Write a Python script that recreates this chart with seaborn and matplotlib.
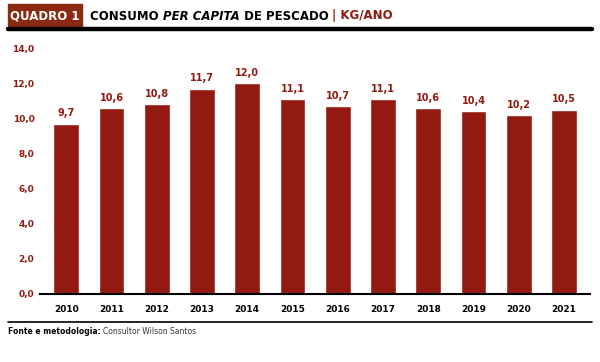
import matplotlib.pyplot as plt
import seaborn as sns
import pandas as pd

# data
anos = ["2010", "2011", "2012", "2013", "2014", "2015", "2016", "2017", "2018", "2019", "2020", "2021"]
consumo = [9.7, 10.6, 10.8, 11.7, 12.0, 11.1, 10.7, 11.1, 10.6, 10.4, 10.2, 10.5]
yticks = [0, 2, 4, 6, 8, 10, 12, 14]

df = pd.DataFrame({"ano": anos, "consumo": consumo})

sns.set_style("white")
plt.rcParams['font.family'] = ['DejaVu Sans']

red = "#921a10"
fig = plt.figure(figsize=(6, 3.62), dpi=100)
ax = fig.add_axes([0.0667, 0.188, 0.917, 0.679])

sns.barplot(data=df, x="ano", y="consumo", color=red, width=0.57, saturation=1, ax=ax)

for i, v in enumerate(consumo):
    ax.text(i, v + 0.3, f"{v:.1f}".replace(".", ","), ha="center", va="bottom",
            fontsize=7, fontweight="bold", color=red)

ax.set_xlim(-0.58, 11.58)
ax.set_ylim(0, 14)
ax.set_yticks(yticks)
ax.set_yticklabels([f"{t:.1f}".replace(".", ",") for t in yticks], color=red,
                   fontsize=6.5, fontweight="bold")
ax.set_xticks(range(len(anos)))
ax.set_xticklabels(anos, fontsize=6.5, fontweight="bold", color="black")
ax.tick_params(axis="y", length=0, pad=4)
ax.tick_params(axis="x", length=0, pad=8)
ax.set_xlabel("")
ax.set_ylabel("")
for s in ["top", "right", "left"]:
    ax.spines[s].set_visible(False)
ax.spines["bottom"].set_color("black")
ax.spines["bottom"].set_linewidth(1.5)

renderer = fig.canvas.get_renderer()


def chain(x_px, y_px, parts):
    # place text pieces one after another, measuring each
    x = x_px
    for txt, kw in parts:
        t = fig.text(x / 600, 1 - y_px / 362, txt, ha="left", va="center", **kw)
        x = t.get_window_extent(renderer).x1


# header
fig.patches.append(plt.Rectangle((8 / 600, 1 - 27 / 362), 74 / 600, 23 / 362,
                                 transform=fig.transFigure, color="#8a2a12", zorder=1))
fig.text(45 / 600, 1 - 16 / 362, "QUADRO 1", ha="center", va="center", color="white",
         fontsize=8.5, fontweight="bold")
fig.lines.append(plt.Line2D([8 / 600, 592 / 600], [1 - 29 / 362, 1 - 29 / 362],
                            transform=fig.transFigure, color="black", linewidth=3.2))
hdr = dict(fontsize=8.5, fontweight="bold", color="black")
chain(90, 16, [
    ("CONSUMO ", hdr),
    ("PER CAPITA", dict(hdr, fontstyle="italic")),
    (" DE PESCADO ", hdr),
    ("| KG/ANO", dict(hdr, color=red)),
])

# footer
fig.lines.append(plt.Line2D([8 / 600, 592 / 600], [1 - 322 / 362, 1 - 322 / 362],
                            transform=fig.transFigure, color="black", linewidth=1.2))
chain(8, 332, [
    ("Fonte e metodologia: ", dict(fontsize=5.5, fontweight="bold", color="black")),
    ("Consultor Wilson Santos", dict(fontsize=5.5, color="#333333")),
])

fig.savefig("out.png", dpi=100)
